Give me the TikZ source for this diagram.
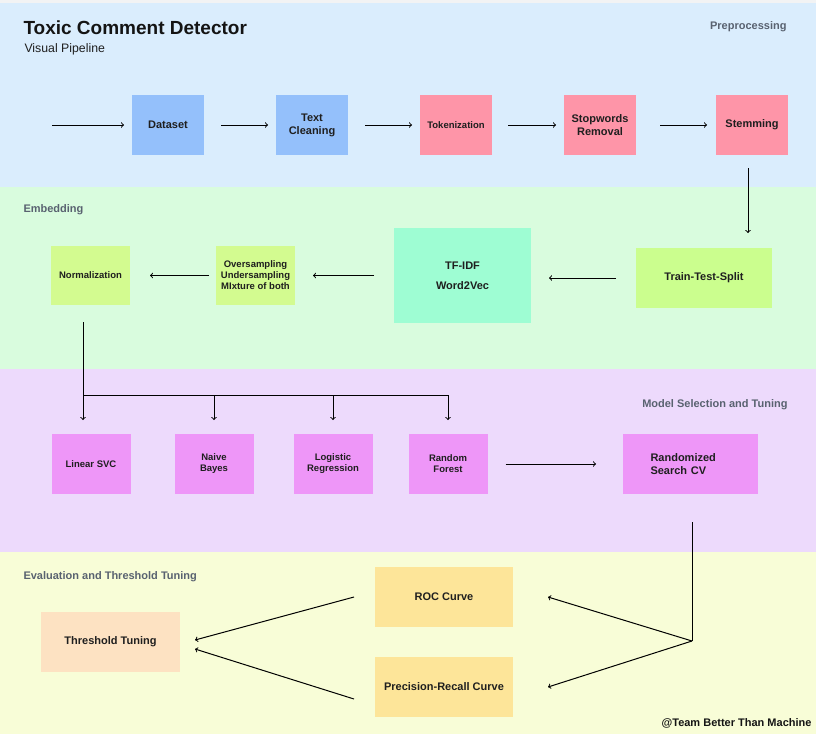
\documentclass[tikz,border=0pt]{standalone}
\usepackage{fontspec}
\setmainfont{Liberation Sans}
\usepackage{xcolor}
\usetikzlibrary{positioning,arrows}

\definecolor{topgray}{HTML}{F2F3F4}
\definecolor{prepband}{HTML}{DAEDFD}
\definecolor{embband}{HTML}{D9FCDE}
\definecolor{modelband}{HTML}{EDDAFC}
\definecolor{evalband}{HTML}{F8FDD7}
\definecolor{prepblue}{HTML}{94C0FB}
\definecolor{preppink}{HTML}{FE95A8}
\definecolor{emblime}{HTML}{D3FB90}
\definecolor{embsplit}{HTML}{CBFE8E}
\definecolor{embmint}{HTML}{9EFDD3}
\definecolor{modelviolet}{HTML}{EE96F8}
\definecolor{evalgold}{HTML}{FDE599}
\definecolor{evalpeach}{HTML}{FDE2C2}
\definecolor{labelgray}{HTML}{596270}

\begin{document}
\begin{tikzpicture}[x=1pt, y=-1pt, line width=1pt,
    box/.style = {rectangle, inner sep=0pt, outer sep=0pt, align=center, text=black!88,
                  font=\bfseries\fontsize{11}{13}\selectfont},
    small/.style = {font=\bfseries\fontsize{9.5}{11}\selectfont},
    prep/.style = {box, fill=#1, minimum width=72pt, minimum height=60pt},
    emb/.style = {box, small, fill=emblime, minimum width=79pt, minimum height=59pt},
    model/.style = {box, small, fill=modelviolet, minimum width=79pt, minimum height=60pt},
    eval/.style = {box, fill=#1, minimum width=138pt, minimum height=60pt},
    section/.style = {font=\bfseries\fontsize{11}{13}\selectfont, text=labelgray}]

  % background bands
  \fill[topgray] (0,0) rectangle (816,3);
  \fill[prepband] (0,3) rectangle (816,187);
  \fill[embband] (0,187) rectangle (816,369);
  \fill[modelband] (0,369) rectangle (816,552);
  \fill[evalband] (0,552) rectangle (816,734);

  % titles
  \node[anchor=base west, inner sep=0pt, text=black!92,
        font=\bfseries\fontsize{19}{22}\selectfont] (title) at (23,34) {Toxic Comment Detector};
  \node[anchor=base west, inner sep=0pt, text=black!88,
        font=\fontsize{12.3}{14}\selectfont] (subtitle) at (24,52.5) {Visual Pipeline};
  \node[section, anchor=base east, inner sep=0pt] (sec_prep) at (787,29) {Preprocessing};
  \node[section, anchor=base west, inner sep=0pt] (sec_emb) at (23,212) {Embedding};
  \node[section, anchor=base east, inner sep=0pt] (sec_model) at (788,407) {Model Selection and Tuning};
  \node[section, anchor=base west, inner sep=0pt] (sec_eval) at (23,579) {Evaluation and Threshold Tuning};
  \node[anchor=base east, inner sep=0pt, text=black!92,
        font=\bfseries\fontsize{11}{13}\selectfont] (team) at (812,726) {@Team Better Than Machine};

  % preprocessing
  \node[prep=prepblue] (dataset) at (168,125) {Dataset};
  \node[prep=prepblue] (clean) [right=72pt of dataset] {Text\\Cleaning};
  \node[prep=preppink, small] (token) [right=72pt of clean] {Tokenization};
  \node[prep=preppink] (stop) [right=72pt of token] {Stopwords\\Removal};
  \node[prep=preppink] (stem) [right=80pt of stop] {Stemming};

  % embedding
  \node[box, fill=embsplit, minimum width=136pt, minimum height=60pt] (split) at (704,278) {Train-Test-Split};
  \node[box, fill=embmint, minimum width=137pt, minimum height=95pt,
        font=\bfseries\fontsize{11}{20}\selectfont] (tfidf) at (462.5,275.5) {TF-IDF\\Word2Vec};
  \node[emb] (over) [left=99pt of tfidf] {Oversampling\\Undersampling\\MIxture of both};
  \node[emb] (norm) [left=86pt of over] {Normalization};

  % models
  \node[model] (svc) at (91,464) {Linear SVC};
  \node[model] (nb) [right=44pt of svc] {Naive\\Bayes};
  \node[model] (lr) [right=40pt of nb] {Logistic\\Regression};
  \node[model] (rf) [right=36pt of lr] {Random\\Forest};
  \node[box, fill=modelviolet, minimum width=135pt, minimum height=60pt,
        text width=80pt, align=left] (rs) at (690.5,464) {Randomized\\Search CV};

  % evaluation
  \node[eval=evalgold] (roc) at (444,597) {ROC Curve};
  \node[eval=evalgold] (pr) [below=30pt of roc] {Precision-Recall Curve};
  \node[eval=evalpeach, minimum width=139pt] (thr) at (110.5,642) {Threshold Tuning};

  \coordinate (in) at (52,125);
  \coordinate (bus) at (83,395);
  \coordinate (fork) at (692,641);

  \draw[->, shorten >=8pt] (in) -- (dataset);
  \draw[->, shorten <=17pt, shorten >=8pt] (dataset) -- (clean);
  \draw[->, shorten <=17pt, shorten >=8pt] (clean) -- (token);
  \draw[->, shorten <=16pt, shorten >=8pt] (token) -- (stop);
  \draw[->, shorten <=24pt, shorten >=9pt] (stop) -- (stem);
  \draw[->, shorten <=13pt, shorten >=15pt] ([xshift=-4pt]stem.south) -- ([xshift=-4pt]stem.south |- split.north);

  \draw[->, shorten <=20pt, shorten >=18pt] (split.west) -- (split.west -| tfidf.east);
  \draw[->, shorten <=20pt, shorten >=18pt] (tfidf.west |- over.east) -- (over.east);
  \draw[->, shorten <=7pt, shorten >=20pt] (over.west) -- (norm.east);

  \draw[shorten <=17pt] (bus |- norm.south) -- (bus) -- (bus -| rf.north);
  \draw[->, shorten >=14pt] (bus) -- (bus |- svc.north);
  \draw[->, shorten >=14pt] (bus -| nb.north) -- (nb.north);
  \draw[->, shorten >=14pt] (bus -| lr.north) -- (lr.north);
  \draw[->, shorten >=14pt] (bus -| rf.north) -- (rf.north);
  \draw[->, shorten <=18pt, shorten >=27pt] (rf.east) -- (rf.east -| rs.west);

  \draw[shorten <=28pt] (rs.south -| fork) -- (fork);
  \draw[->] (fork) -- ([xshift=35pt]roc.east);
  \draw[->] (fork) -- ([xshift=35pt]pr.east);
  \draw[->] ([xshift=-21pt]roc.west) -- ([xshift=15pt, yshift=2pt]thr.east);
  \draw[->] ([xshift=-21pt, yshift=-12pt]pr.west) -- ([xshift=15pt, yshift=-7pt]thr.east);
\end{tikzpicture}
\end{document}
